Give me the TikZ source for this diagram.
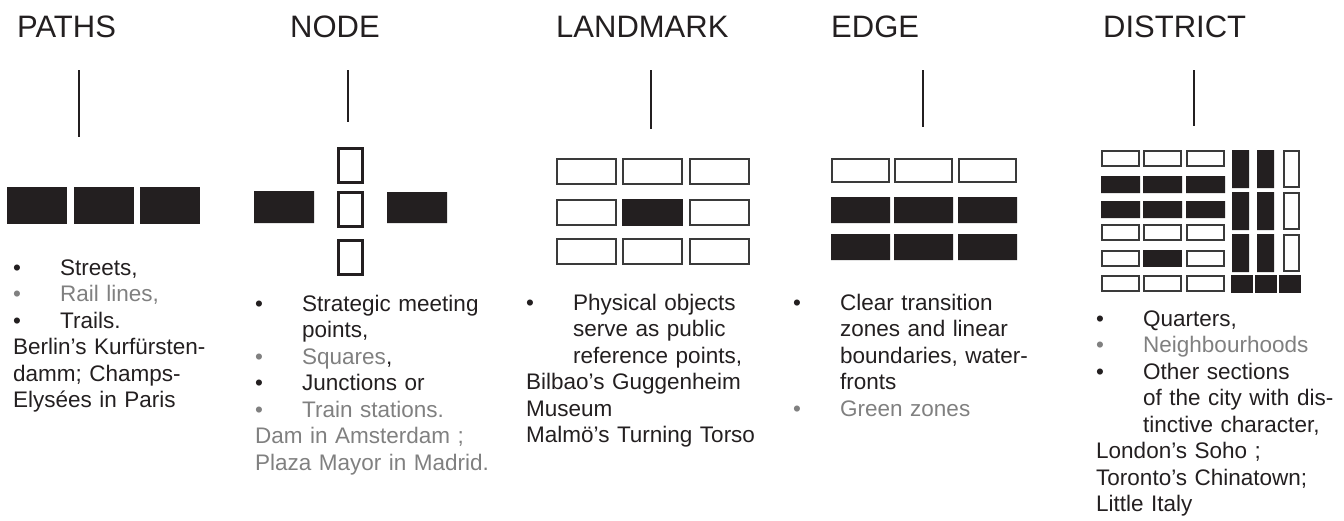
\documentclass[tikz,border=0pt]{standalone}
\usepackage{fontspec}
\setmainfont{Liberation Sans}
\definecolor{ink}{HTML}{231F20}
\definecolor{soft}{HTML}{808080}
\definecolor{rim}{HTML}{3A3A3A}
\newcommand{\bul}[1][ink]{\makebox[47pt][l]{\textcolor{#1}{\textbullet}}}
\newcommand{\ind}{\hspace*{47pt}}
\begin{document}
\begin{tikzpicture}[x=1pt,y=-1pt,line join=miter]
\tikzset{title/.style={anchor=base west,inner sep=0,font=\fontsize{31}{36}\selectfont,text=ink},
  body/.style={anchor=base west,inner sep=0,text width=250pt,align=left,font=\fontsize{22.5}{26.5}\selectfont,text=ink},
  stem/.style={draw=ink,line width=2pt},
  hollow/.style={draw=rim,line width=1.6pt}}
\useasboundingbox (0,0) rectangle (1344,520);
\node[title] (paths) at (17,37) {PATHS};
\node[title] (nodet) at (290,37) {NODE};
\node[title] (landmark) at (556,37) {LANDMARK};
\node[title] (edge) at (831,37) {EDGE};
\node[title] (district) at (1103,37) {DISTRICT};
\coordinate (p-top) at (79,70);   \coordinate (p-bot) at (79,137);
\coordinate (n-top) at (348,70);  \coordinate (n-bot) at (348,122);
\coordinate (l-top) at (651,70);  \coordinate (l-bot) at (651,129);
\coordinate (e-top) at (923,70);  \coordinate (e-bot) at (923,127);
\coordinate (d-top) at (1194,70); \coordinate (d-bot) at (1194,126);
\foreach \a/\b in {p-top/p-bot,n-top/n-bot,l-top/l-bot,e-top/e-bot,d-top/d-bot}
  \draw[stem] (\a)--(\b);
\foreach \x in {7,74,140}
  \fill[ink] (\x,187) rectangle ++(60,37);
\foreach \y in {148.5,192.5,240.5}
  \draw[hollow,draw=ink,line width=3pt] (338.5,\y) rectangle ++(24,34);
\fill[ink] (254,191) rectangle (314,223) (387,192) rectangle (447,223);
\foreach \x in {556,622,689}
  \foreach \y in {158,199,238}
    \draw[hollow] (\x+.8,\y+.8) rectangle ++(59.4,25.4);
\fill[ink] (622,199) rectangle (683,226);
\foreach \x in {831,894,958}{
  \draw[hollow] (\x+.8,158.8) rectangle ++(57.4,23.4);
  \fill[ink] (\x,197) rectangle ++(59,26) (\x,234) rectangle ++(59,26);}
\foreach \x in {1101,1143,1186}
  \foreach \y in {150,224,250,275}
    \draw[hollow] (\x+.8,\y+.8) rectangle ++(37.4,15.4);
\foreach \x in {1101,1143,1186}
  \fill[ink] (\x,176) rectangle ++(39,17) (\x,201) rectangle ++(39,17);
\fill[ink] (1143,250) rectangle ++(39,17);
\foreach \y in {150,192,234}{
  \fill[ink] (1232,\y) rectangle ++(17,38) (1257,\y) rectangle ++(17,38);
  \draw[hollow] (1283.8,\y+.8) rectangle ++(15.4,36.4);}
\foreach \x in {1231,1255,1279}
  \fill[ink] (\x,275) rectangle ++(22,18);
\node[body] (ptext) at (13,275) {\bul Streets,\\
  \bul[soft]\textcolor{soft}{Rail lines,}\\
  \bul Trails.\\
  Berlin’s Kurfürsten-\\
  damm; Champs-\\
  Elysées in Paris};
\node[body] (ntext) at (255,311) {\bul Strategic meeting\\
  \ind points,\\
  \bul[soft]\textcolor{soft}{Squares},\\
  \bul Junctions or\\
  \bul[soft]\textcolor{soft}{Train stations.}\\
  \textcolor{soft}{Dam in Amsterdam ;}\\
  \textcolor{soft}{Plaza Mayor in Madrid.}};
\node[body] (ltext) at (526,310) {\bul Physical objects\\
  \ind serve as public\\
  \ind reference points,\\
  Bilbao’s Guggenheim\\
  Museum\\
  Malmö’s Turning Torso};
\node[body] (etext) at (793,310) {\bul Clear transition\\
  \ind zones and linear\\
  \ind boundaries, water-\\
  \ind fronts\\
  \bul[soft]\textcolor{soft}{Green zones}};
\node[body] (dtext) at (1096,326) {\bul Quarters,\\
  \bul[soft]\textcolor{soft}{Neighbourhoods}\\
  \bul Other sections\\
  \ind of the city with dis-\\
  \ind tinctive character,\\
  London’s Soho ;\\
  Toronto’s Chinatown;\\
  Little Italy};
\end{tikzpicture}
\end{document}
